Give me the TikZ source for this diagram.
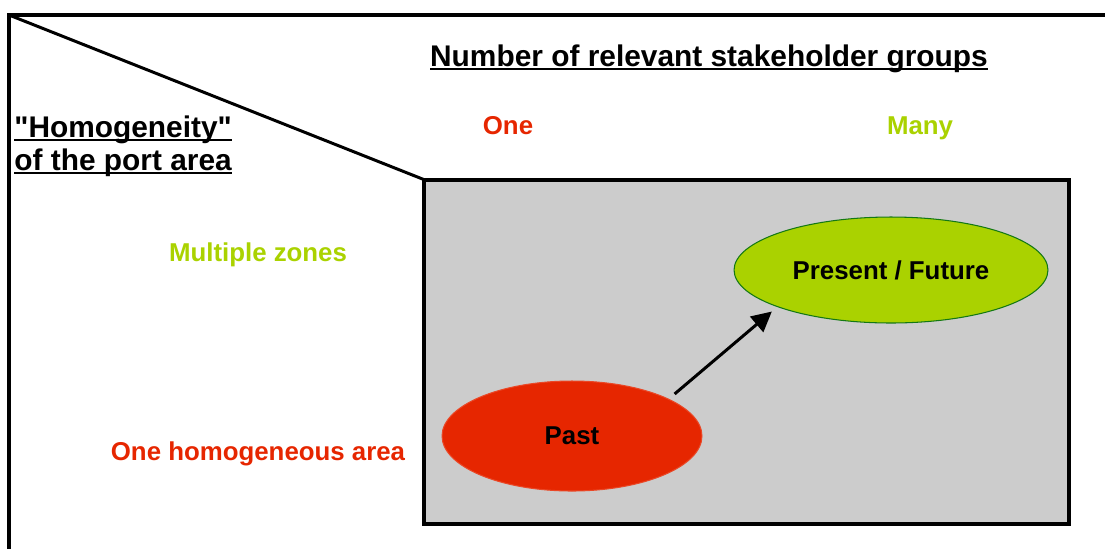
\documentclass[tikz,border=0pt]{standalone}
\usepackage{fontspec}
\setmainfont{Liberation Sans}[Ligatures=TeXOff]
\usetikzlibrary{shapes.geometric,arrows.meta}
\definecolor{pastred}{RGB}{230,38,0}
\definecolor{futgreen}{RGB}{170,210,0}
\definecolor{futedge}{RGB}{20,120,20}
\definecolor{boxgrey}{RGB}{204,204,204}
\newcommand{\ulbar}[1]{\setbox0\hbox{#1}\rlap{\rule[-2.4pt]{\wd0}{1.1pt}}\box0}
\begin{document}
\begin{tikzpicture}[x=0.02cm,y=-0.02cm,
  head/.style={font=\bfseries\fontsize{17}{20}\selectfont},
  lbl/.style={font=\bfseries\fontsize{14.7}{17}\selectfont},
  blob/.style={ellipse,inner sep=0pt}]
\useasboundingbox (0,0) rectangle (1105,549);
\draw[line width=2.3pt] (1105,15) -- (9,15) -- (9,549);
\draw[line width=1.7pt] (9,15) -- (425,180);
\draw[line width=2.8pt,fill=boxgrey] (424,180) rectangle (1069,524);
\node[head,anchor=base](title) at (709,66) {\ulbar{Number of relevant stakeholder groups}};
\node[head,anchor=base west,inner sep=0pt](homo1) at (14,137) {\ulbar{"Homogeneity"}};
\node[head,anchor=base west,inner sep=0pt](homo2) at (14,170) {\ulbar{of the port area}};
\node[lbl,anchor=base,text=pastred](one) at (508,134) {One};
\node[lbl,anchor=base,text=futgreen](many) at (920,134) {Many};
\node[lbl,anchor=base,text=futgreen](zones) at (258,261) {Multiple zones};
\node[lbl,anchor=base,text=pastred](area) at (258,460) {One homogeneous area};
\node[blob,lbl,fill=pastred,draw=pastred!85!white,line width=0.6pt,
  minimum width=5.2cm,minimum height=2.2cm](past) at (572,436) {Past};
\node[blob,lbl,fill=futgreen,draw=futedge,line width=0.6pt,
  minimum width=6.28cm,minimum height=2.12cm](future) at (891,270) {Present / Future};
\draw[-{Triangle[length=0.4cm,width=0.4cm]},line width=1.7pt,
  shorten <=0.15cm,shorten >=0.14cm] (past.21) -- (future.198);
\end{tikzpicture}
\end{document}
